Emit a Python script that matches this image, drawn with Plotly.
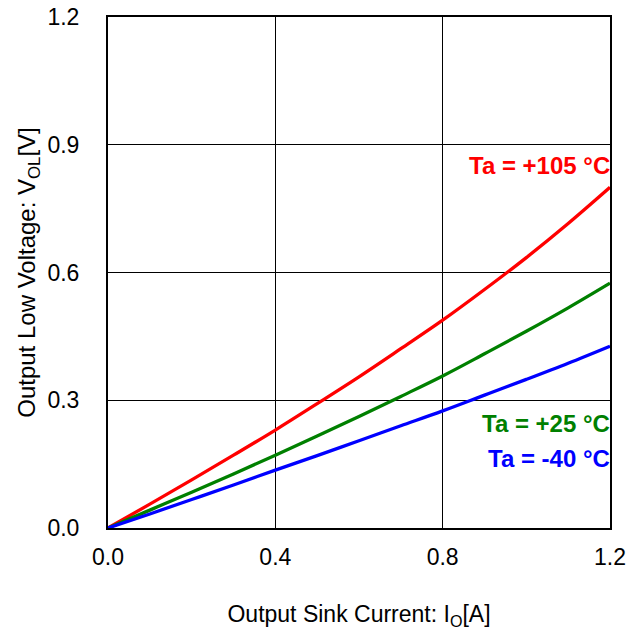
import plotly.graph_objects as go

current = [0.0, 0.1, 0.2, 0.3, 0.4, 0.5, 0.6, 0.7, 0.8, 0.9, 1.0, 1.1, 1.2]
v_105 = [0.0, 0.056, 0.113, 0.171, 0.23, 0.292, 0.355, 0.421, 0.488, 0.56, 0.635, 0.715, 0.80]
v_25 = [0.0, 0.042, 0.084, 0.127, 0.171, 0.216, 0.262, 0.309, 0.357, 0.409, 0.462, 0.517, 0.575]
v_m40 = [0.0, 0.033, 0.067, 0.101, 0.136, 0.170, 0.205, 0.240, 0.275, 0.312, 0.349, 0.387, 0.427]

labels = ["Ta = +105 °C", "Ta = +25 °C", "Ta = -40 °C"]
colors = ["#ff0000", "#008000", "#0000ff"]
series = [v_105, v_25, v_m40]
label_y = [0.852, 0.245, 0.163]

FONT = "Liberation Sans"

fig = go.Figure()
for s, c in zip(series, colors):
    fig.add_trace(go.Scatter(x=current, y=s, mode="lines", line=dict(color=c, width=3.3, shape="spline"),
                             showlegend=False, hoverinfo="skip"))

for lab, c, ly in zip(labels, colors, label_y):
    fig.add_annotation(x=1.2, y=ly, xref="x", yref="y", text=f"<b>{lab}</b>", showarrow=False,
                       xanchor="right", yanchor="middle", xshift=2,
                       font=dict(color=c, size=24, family=FONT))

axis_common = dict(showline=True, linecolor="black", linewidth=2, mirror=True,
                   showgrid=True, gridcolor="black", gridwidth=1, zeroline=False,
                   automargin=False,
                   ticks="", tickfont=dict(size=23, color="black", family=FONT))

fig.update_xaxes(range=[0, 1.2], tickvals=[0, 0.4, 0.8, 1.2], ticktext=["0.0", "0.4", "0.8", "1.2"],
                 ticklabelstandoff=7,
                 title=dict(text="Output Sink Current: I<sub>O</sub>[A]", standoff=37,
                            font=dict(size=23, color="black", family=FONT)),
                 **axis_common)
fig.update_yaxes(range=[0, 1.2], tickvals=[0, 0.3, 0.6, 0.9, 1.2], ticktext=["0.0", "0.3", "0.6", "0.9", "1.2"],
                 ticklabelstandoff=22,
                 title=dict(text="Output Low Voltage: V<sub>OL</sub>[V]", standoff=5,
                            font=dict(size=24, color="black", family=FONT)),
                 **axis_common)

fig.update_layout(width=638, height=631, margin=dict(l=108, r=28, t=17, b=103),
                  plot_bgcolor="white", paper_bgcolor="white",
                  font=dict(family=FONT, color="black"))

fig.write_html("out.html")
